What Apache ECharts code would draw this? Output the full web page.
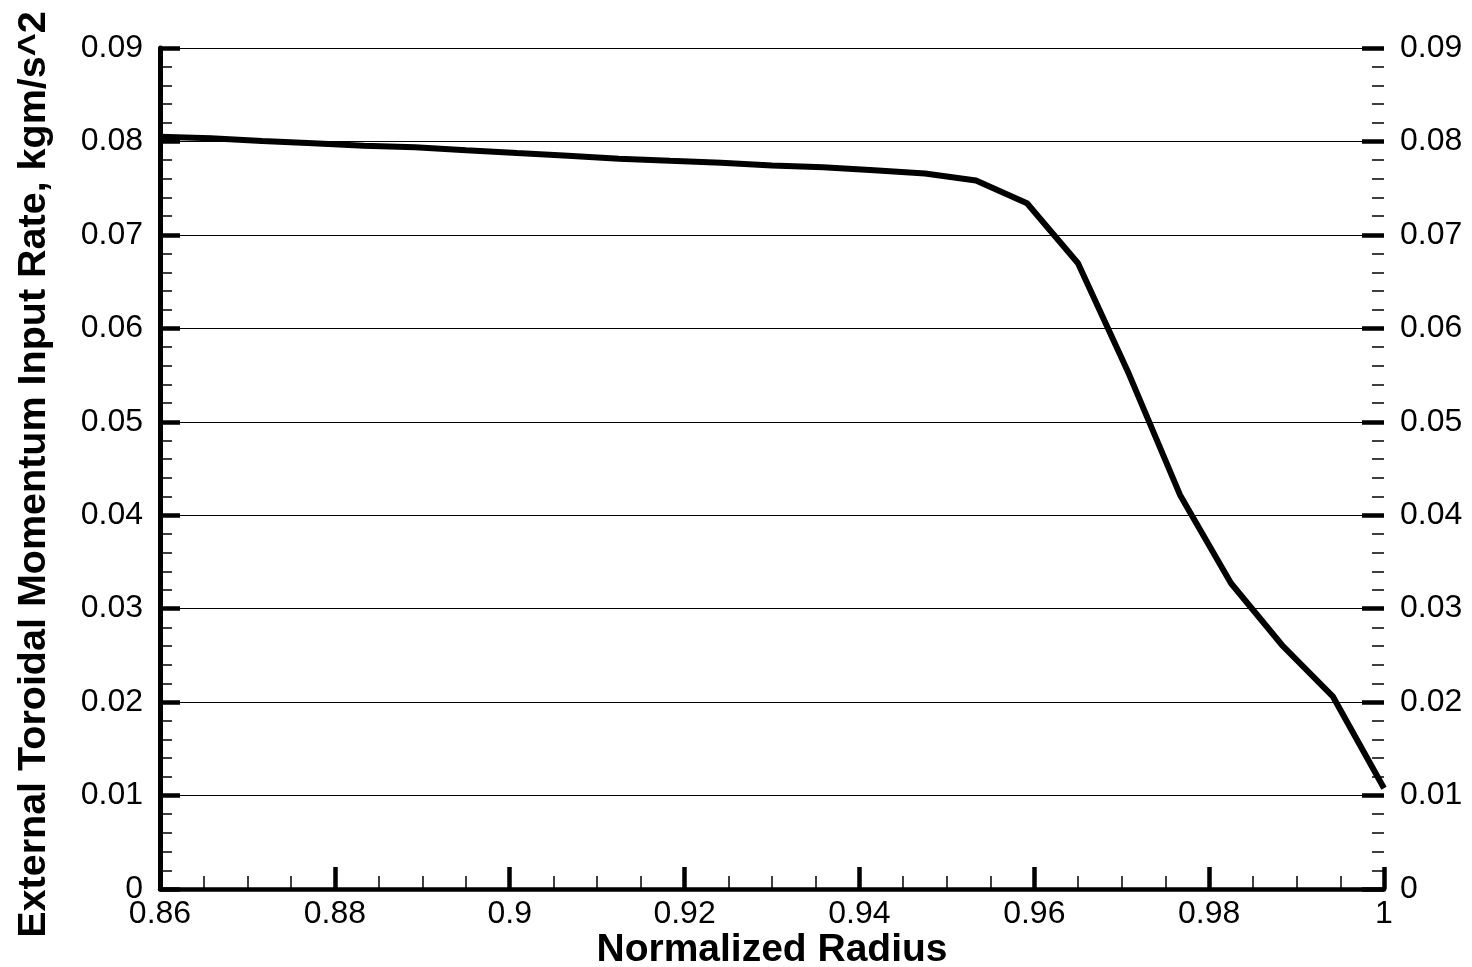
<!DOCTYPE html>
<html>
<head>
<meta charset="utf-8">
<script src="https://cdn.jsdelivr.net/npm/echarts@6/dist/echarts.min.js"></script>
<style>
html,body{margin:0;padding:0;background:#fff;}
#chart{width:1472px;height:967px;}
</style>
</head>
<body>
<div id="chart"></div>
<script>
const radius = [0.86, 0.86583, 0.87167, 0.8775, 0.88333, 0.88917, 0.895, 0.90083, 0.90667, 0.9125,
  0.91833, 0.92417, 0.93, 0.93583, 0.94167, 0.9475, 0.95333, 0.95917, 0.965, 0.97083,
  0.97667, 0.9825, 0.98833, 0.99417, 1.0];
const momentumRate = [0.08051, 0.08034, 0.08005, 0.07981, 0.07955, 0.07938, 0.07907, 0.07877, 0.07848, 0.07816,
  0.07793, 0.07773, 0.07743, 0.07724, 0.07692, 0.07657, 0.07582, 0.07338, 0.06696, 0.0551,
  0.04217, 0.03272, 0.02611, 0.02058, 0.01078];
const xTitle = 'Normalized Radius';
const yTitle = 'External Toroidal Momentum Input Rate, kgm/s^2';

const font = '"Liberation Sans", Arial, sans-serif';
const chart = echarts.init(document.getElementById('chart'), null, {renderer: 'canvas'});
chart.setOption({
  animation: false,
  backgroundColor: '#fff',
  grid: {left: 160, right: 88, top: 48, bottom: 78, containLabel: false, outerBoundsMode: 'none'},
  xAxis: {
    type: 'value', min: 0.86, max: 1.0, interval: 0.02,
    name: xTitle, nameLocation: 'middle', nameGap: 42, nameMoveOverlap: false,
    nameTextStyle: {fontFamily: font, fontSize: 39, fontWeight: 'bold', color: '#000'},
    axisLine: {show: true, onZero: false, lineStyle: {color: '#000', width: 4.5}},
    axisTick: {show: true, inside: true, length: 22, lineStyle: {color: '#000', width: 4.5}},
    minorTick: {show: true, splitNumber: 4, length: 13, lineStyle: {color: '#000', width: 1.5}},
    axisLabel: {fontFamily: font, fontSize: 32, color: '#000', margin: 9},
    splitLine: {show: false}
  },
  yAxis: [{
    type: 'value', min: 0, max: 0.09, interval: 0.01, position: 'left',
    name: yTitle, nameLocation: 'middle', nameGap: 106, nameRotate: 90, nameMoveOverlap: false,
    nameTextStyle: {fontFamily: font, fontSize: 39.5, fontWeight: 'bold', color: '#000', padding: [0, 12, 0, 0]},
    axisLine: {show: true, lineStyle: {color: '#000', width: 5}},
    axisTick: {show: true, inside: true, length: 20, lineStyle: {color: '#000', width: 4.5}},
    minorTick: {show: true, splitNumber: 5, length: 12, lineStyle: {color: '#000', width: 1.5}},
    axisLabel: {fontFamily: font, fontSize: 32, color: '#000', margin: 17},
    splitLine: {show: true, lineStyle: {color: '#000', width: 1}}
  }, {
    type: 'value', min: 0, max: 0.09, interval: 0.01, position: 'right',
    axisLine: {show: false},
    axisTick: {show: true, inside: true, length: 22, lineStyle: {color: '#000', width: 4.5}},
    minorTick: {show: true, splitNumber: 5, length: 12, lineStyle: {color: '#000', width: 1.5}},
    axisLabel: {fontFamily: font, fontSize: 32, color: '#000', margin: 16},
    splitLine: {show: false}
  }],
  series: [{
    type: 'line',
    data: radius.map((r, i) => [r, momentumRate[i]]),
    showSymbol: false,
    symbol: 'none',
    lineStyle: {color: '#000', width: 6},
    z: 5
  }]
});
</script>
</body>
</html>
